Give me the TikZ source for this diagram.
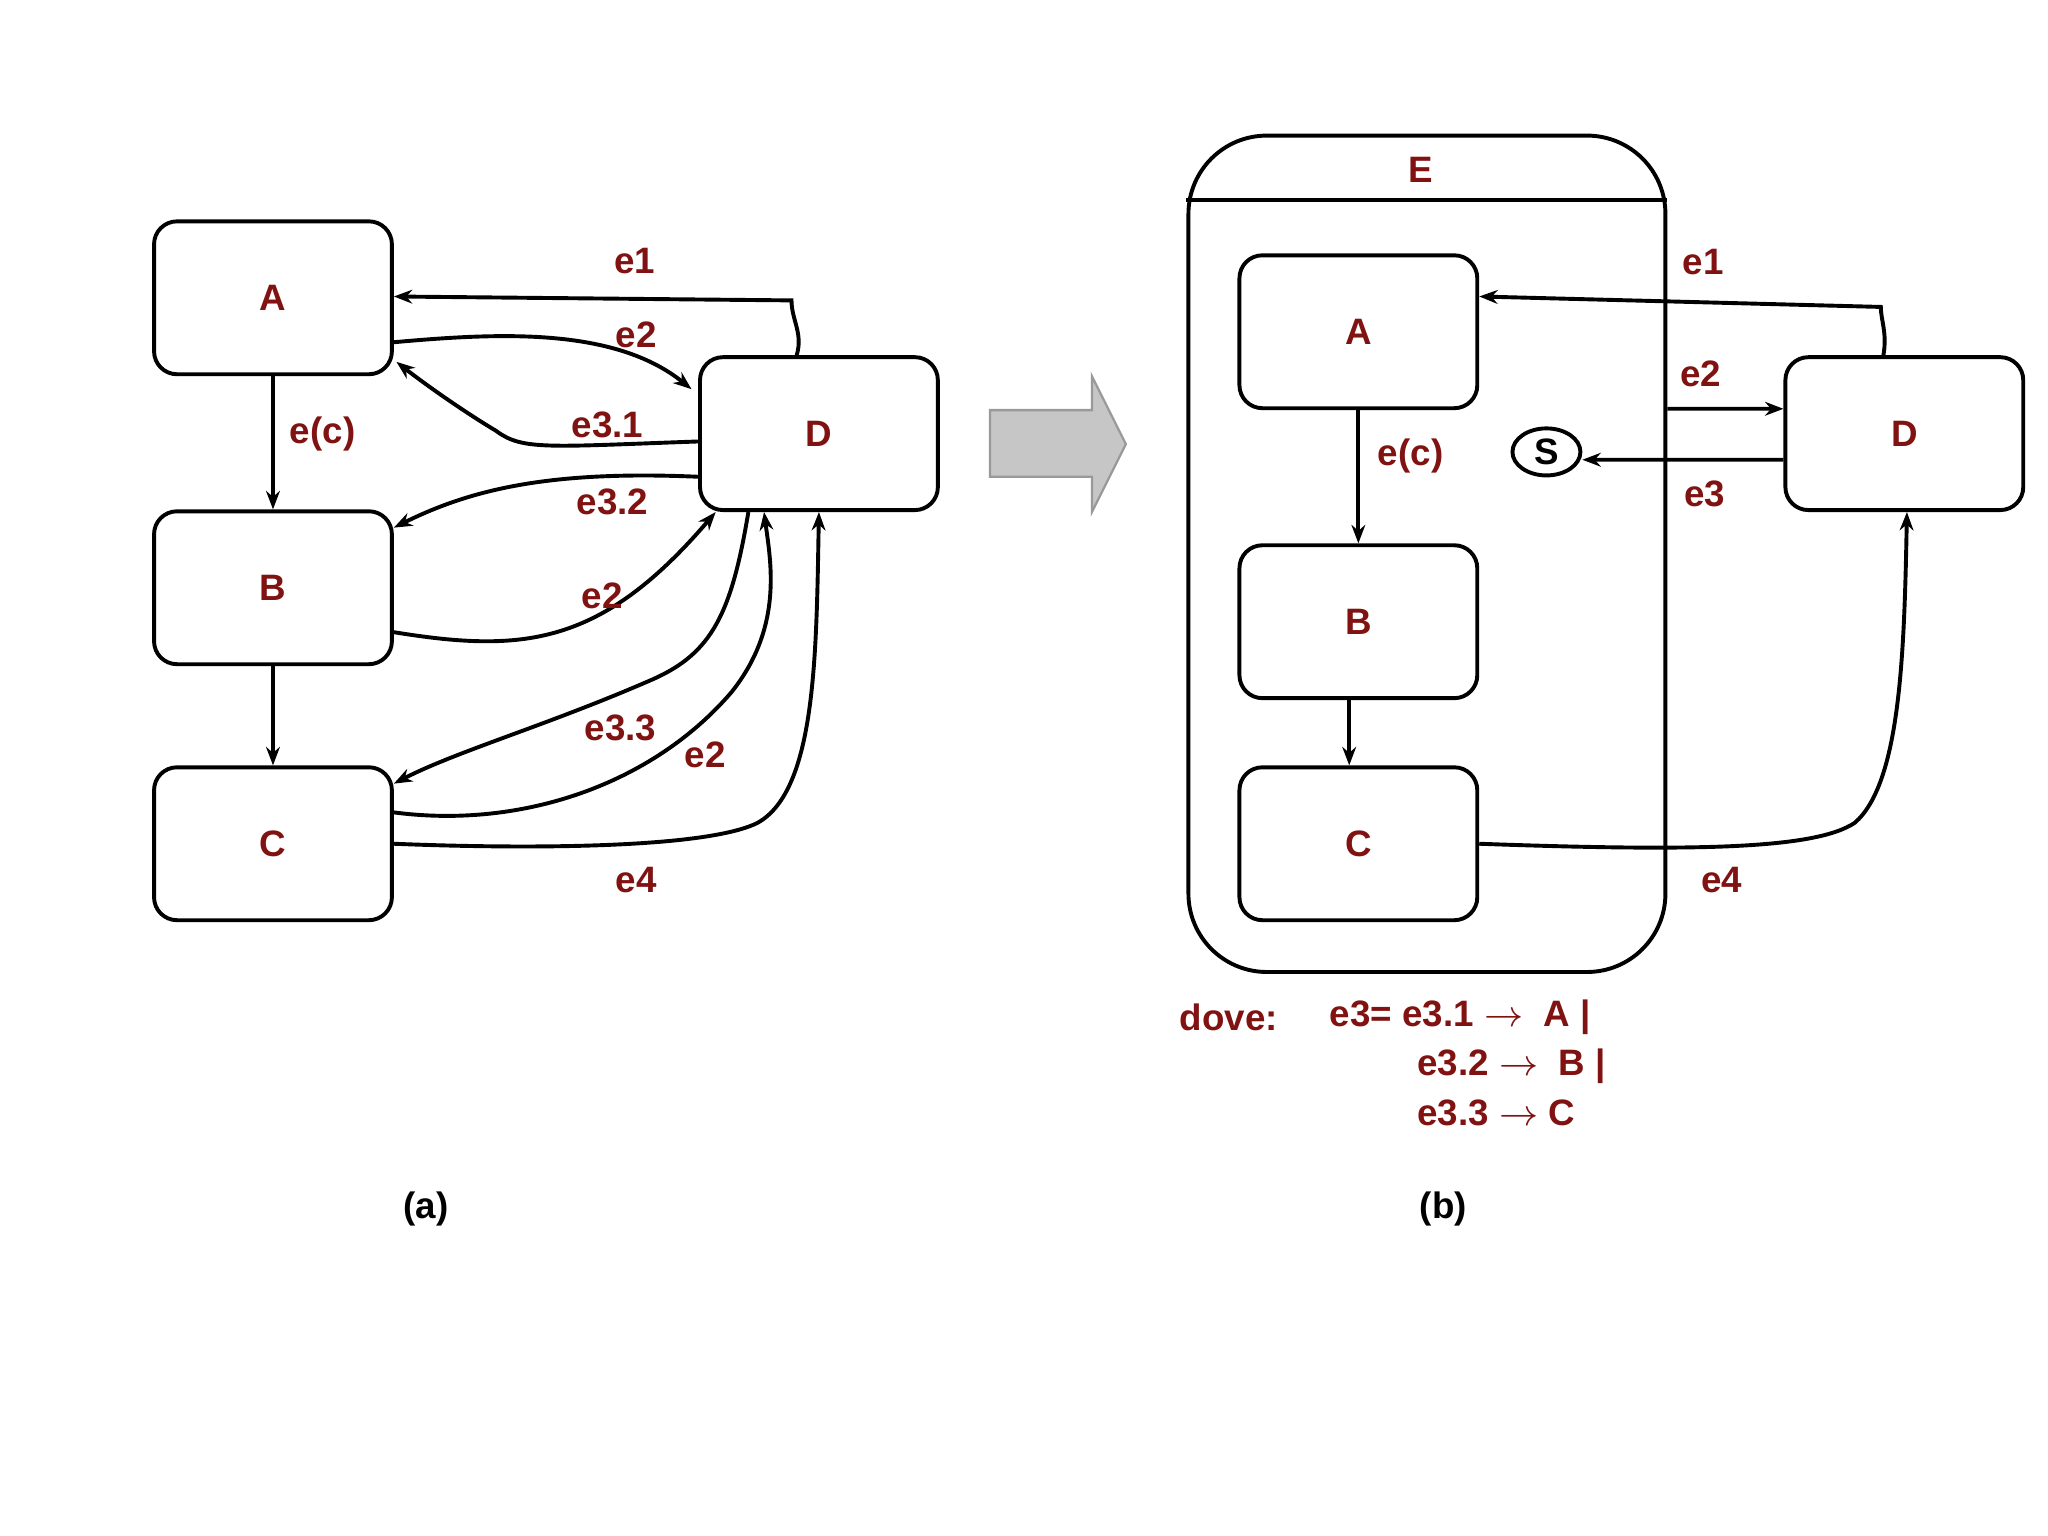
\documentclass[tikz,border=0pt]{standalone}
\usepackage{fontspec}
\setmainfont{Liberation Sans}
\usetikzlibrary{arrows.meta,shapes.geometric}
\definecolor{lab}{RGB}{128,18,18}
\begin{document}
\begin{tikzpicture}[x=0.01cm,y=-0.01cm,line width=0.85pt,
  box/.style={draw,rounded corners=5pt,minimum width=1.82cm,minimum height=1.17cm,
    font=\fontsize{8}{9}\bfseries\selectfont,text=lab},
  lbl/.style={font=\fontsize{8}{9}\bfseries\selectfont,text=lab},
  arr/.style={-{Stealth[length=4pt,width=3pt]}}]
\useasboundingbox (0,0) rectangle (1568,1176);
% (a)
\node[box] (A) at (209,228) {A};
\node[box] (B) at (209,450) {B};
\node[box] (C) at (209,646) {C};
\node[box] (D) at (627,332) {D};
\draw[arr] (A) -- (B);
\draw[arr] (B) -- (C);
\node[lbl] at (247,332) {e(c)};
\draw[arr] ([xshift=-0.17cm]D.north) .. controls (615,255) and (606,245) .. (606,230) -- ([yshift=0.01cm]A.east);
\node[lbl] at (486,200) {e1};
\draw[arr] ([yshift=-0.34cm]A.east) .. controls (380,255) and (470,250) .. ([yshift=0.34cm,xshift=-0.05cm]D.west);
\node[lbl] at (487,256) {e2};
\draw[arr] ([yshift=-0.06cm]D.west) .. controls (420,342) and (400,345) .. (380,330) .. controls (350,312) and (320,290) .. ([yshift=-0.49cm,xshift=0.02cm]A.east);
\node[lbl] at (465,325) {e3.1};
\draw[arr] ([yshift=-0.33cm]D.west) .. controls (420,360) and (360,375) .. ([yshift=0.46cm]B.east);
\node[lbl] at (469,384) {e3.2};
\draw[arr] ([yshift=-0.34cm]B.east) .. controls (400,500) and (460,495) .. ([xshift=-0.79cm]D.south);
\node[lbl] at (461,456) {e2};
\draw[arr] ([xshift=-0.54cm]D.south) .. controls (560,470) and (545,500) .. (500,520) .. controls (420,555) and (350,575) .. ([yshift=0.46cm]C.east);
\node[lbl] at (475,557) {e3.3};
\draw[arr] ([yshift=0.24cm]C.east) .. controls (400,635) and (500,600) .. (560,530) .. controls (600,480) and (590,430) .. ([xshift=-0.42cm]D.south);
\node[lbl] at (540,578) {e2};
\draw[arr] (C.east) .. controls (400,650) and (540,650) .. (580,630) .. controls (625,605) and (625,500) .. (D.south);
\node[lbl] at (487,674) {e4};
% big arrow
\draw[gray!80,fill=gray!45,line width=0.5pt] (758,314) -- (836,314) -- (836,288) -- (862,340) -- (836,392) -- (836,365) -- (758,365) -- cycle;
% (b)
\node[draw,rounded corners=0.6cm,minimum width=3.65cm,minimum height=6.40cm] (E) at (1092.5,424) {};
\draw ([yshift=-0.51cm]E.north west) -- ([yshift=-0.51cm]E.north east);
\node[lbl] at (1088,130) {E};
\node[box] (A2) at (1040,254) {A};
\node[box] (B2) at (1040,476) {B};
\node[box] (C2) at (1040,646) {C};
\node[box] (D2) at (1458,332) {D};
\node[draw,ellipse,minimum width=0.52cm,minimum height=0.36cm,inner sep=0pt,
  font=\fontsize{8}{9}\bfseries\selectfont] (S) at (1184,346) {S};
\draw[arr] (A2) -- (B2);
\node[lbl] at (1080,349) {e(c)};
\draw[arr] ([xshift=-0.07cm]B2.south) -- ([xshift=-0.07cm]C2.north);
\draw[arr] ([xshift=-0.16cm]D2.north) .. controls (1445,255) and (1440,245) .. (1440,235) -- ([yshift=0.27cm]A2.east);
\node[lbl] at (1304,201) {e1};
\draw[arr] ([yshift=1.11cm]E.east) -- ([yshift=0.19cm]D2.west);
\node[lbl] at (1302,286) {e2};
\draw[arr] ([yshift=-0.2cm]D2.west) -- ([yshift=-0.06cm]S.east);
\node[lbl] at (1305,378) {e3};
\draw[arr] (C2.east) .. controls (1300,652) and (1390,650) .. (1420,630) .. controls (1455,600) and (1458,500) .. ([xshift=0.02cm]D2.south);
\node[lbl] at (1318,674) {e4};
\node[lbl,anchor=west] at (890,779) {dove:};
\node[lbl,anchor=west] at (1005,779) {e3= e3.1 $\rightarrow$\ \ A |};
\node[lbl,anchor=west] at (1072,816) {e3.2 $\rightarrow$\ \ B |};
\node[lbl,anchor=west] at (1072,852) {e3.3 $\rightarrow$ C};
\node[font=\fontsize{8}{9}\bfseries\selectfont] at (326,926) {(a)};
\node[font=\fontsize{8}{9}\bfseries\selectfont] at (1105,926) {(b)};
\end{tikzpicture}
\end{document}
